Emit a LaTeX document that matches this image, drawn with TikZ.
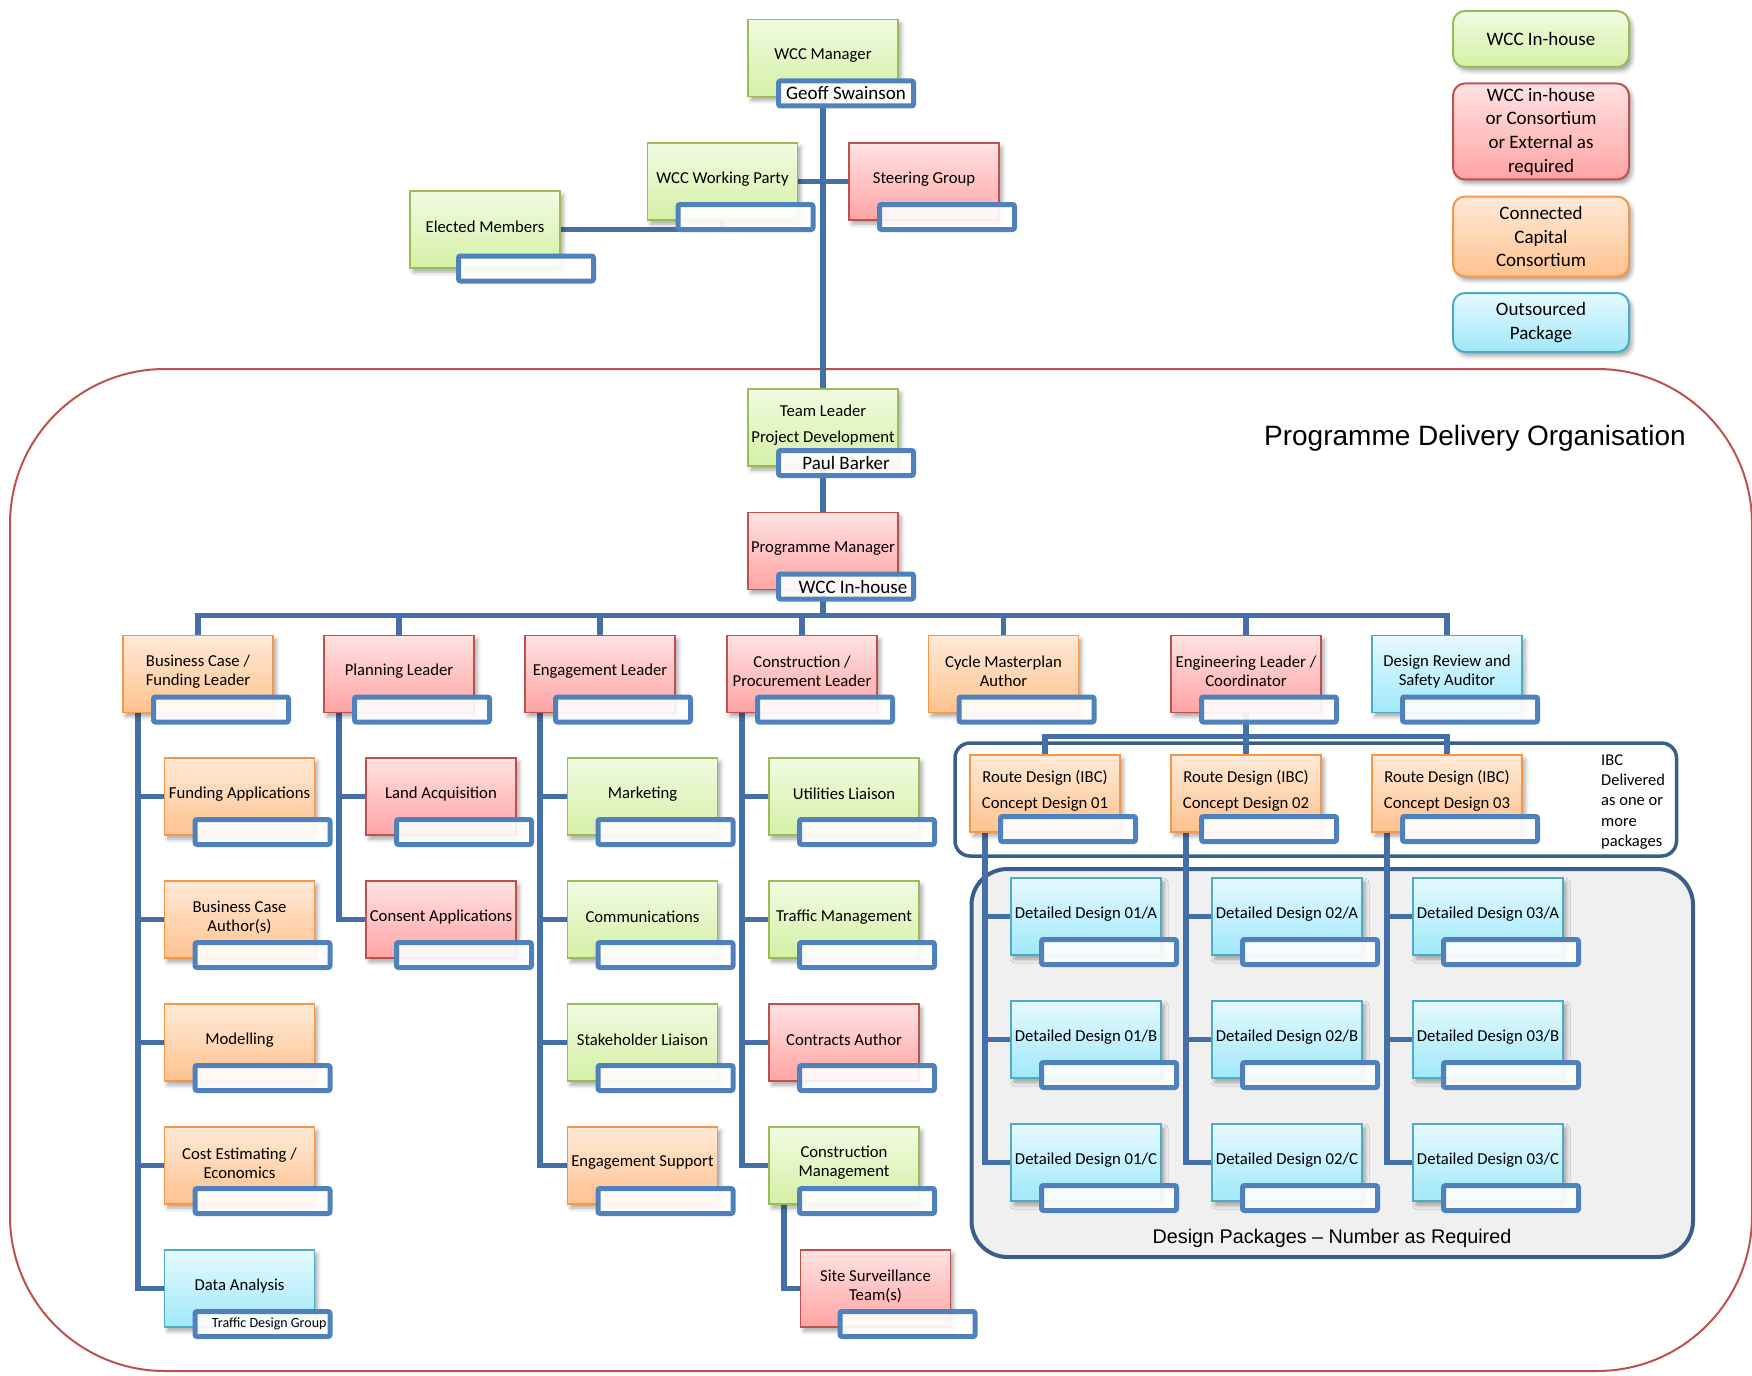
\documentclass[tikz,border=0pt]{standalone}
\usepackage{fontspec}
\setmainfont{Carlito}
\newfontfamily\arialfont{Liberation Sans}
\usetikzlibrary{calc,shadows.blur}

% box fills and outlines
\definecolor{gTop}{RGB}{241,251,226}
\definecolor{gBot}{RGB}{212,240,165}
\definecolor{gLine}{RGB}{155,187,89}
\definecolor{rTop}{RGB}{255,226,226}
\definecolor{rBot}{RGB}{255,164,164}
\definecolor{rLine}{RGB}{192,80,77}
\definecolor{oTop}{RGB}{255,234,216}
\definecolor{oBot}{RGB}{255,194,142}
\definecolor{oLine}{RGB}{247,150,70}
\definecolor{bTop}{RGB}{230,249,254}
\definecolor{bBot}{RGB}{160,232,250}
\definecolor{bLine}{RGB}{75,172,198}
% tags, connectors and frames
\definecolor{tagBlue}{RGB}{79,129,189}
\definecolor{connBlue}{RGB}{68,111,168}
\definecolor{frameBlue}{RGB}{58,94,140}
\definecolor{panelGray}{RGB}{240,240,240}
\definecolor{regionRed}{RGB}{192,80,77}

\newcommand{\orgBoxFont}{\fontsize{16.7}{19}\selectfont}
\newcommand{\orgTagFont}{\fontsize{19}{22}\selectfont}
\newcommand{\orgLegendFont}{\fontsize{19}{23.7}\selectfont}

\pgfdeclarelayer{regions}
\pgfdeclarelayer{links}
\pgfsetlayers{regions,links,main}

% a role box with its title set a little above the centre
\newcommand{\orgbox}[5]{%
  \node[orgnode,#2,anchor=north west] (#1) at (#3,#4) {};
  \node[boxtext] (#1-t) at ($(#1.center)+(0,-2.5)$) {#5};
}
% the name tag that overlaps the lower right of a role box
\newcommand{\orgtag}[3][23,35.5]{%
  \node[tagnode] (#2-n) at ($(#2.center)+(#1)$) {#3};
}

\begin{document}
\begin{tikzpicture}[x=1pt,y=-1pt,
  fillgreen/.style={top color=gTop,bottom color=gBot,draw=gLine},
  fillred/.style={top color=rTop,bottom color=rBot,draw=rLine},
  fillorange/.style={top color=oTop,bottom color=oBot,draw=oLine},
  fillblue/.style={top color=bTop,bottom color=bBot,draw=bLine},
  orgnode/.style={minimum width=150pt,minimum height=77pt,inner sep=0pt,outer sep=0pt,
    line width=1.6pt,
    blur shadow={shadow xshift=3pt,shadow yshift=-4pt,shadow blur radius=4pt,shadow opacity=35}},
  boxtext/.style={font=\orgBoxFont,align=center,inner sep=0pt,text=black},
  tagnode/.style={draw=tagBlue,line width=5pt,fill=white,fill opacity=0.9,text opacity=1,
    rounded corners=2pt,minimum width=135pt,minimum height=25pt,inner sep=0pt,outer sep=0pt,
    font=\orgTagFont,text=black},
  legendbox/.style={minimum width=176pt,inner sep=0pt,outer sep=0pt,line width=2pt,
    rounded corners=12pt,align=center,font=\orgLegendFont,anchor=north west,
    blur shadow={shadow xshift=3pt,shadow yshift=-4pt,shadow blur radius=4pt,shadow opacity=35}},
  conn/.style={draw=connBlue,line width=5.5pt}
]
\useasboundingbox (0,0) rectangle (1752,1375);

% ---------- legend ----------
\node[legendbox,fillgreen,minimum height=56pt] (lg1) at (1453,11) {WCC In-house};
\node[legendbox,fillred,minimum height=96pt] (lg2) at (1453,83.5) {WCC in-house\\or Consortium\\or External as\\required};
\node[legendbox,fillorange,minimum height=80pt] (lg3) at (1453,196.5) {Connected\\Capital\\Consortium};
\node[legendbox,fillblue,minimum height=59pt] (lg4) at (1453,293) {Outsourced\\Package};

% ---------- governance ----------
\orgbox{mgr}{fillgreen}{748}{19.5}{WCC Manager}
\orgbox{wp}{fillgreen}{647.5}{143}{WCC Working Party}
\orgbox{sg}{fillred}{849}{143}{Steering Group}
\orgbox{em}{fillgreen}{410}{191}{Elected Members}

% ---------- programme delivery ----------
\orgbox{tl}{fillgreen}{748}{389}{Team Leader\\[7pt]Project Development}
\orgbox{pm}{fillred}{748}{512.5}{Programme Manager}

\orgbox{bcf}{fillorange}{123}{635.5}{Business Case /\\Funding Leader}
\orgbox{pln}{fillred}{324}{635.5}{Planning Leader}
\orgbox{engage}{fillred}{525}{635.5}{Engagement Leader}
\orgbox{cpl}{fillred}{727}{635.5}{Construction /\\Procurement Leader}
\orgbox{cma}{fillorange}{928.5}{635.5}{Cycle Masterplan\\Author}
\orgbox{engin}{fillred}{1171}{635.5}{Engineering Leader /\\Coordinator}
\orgbox{drs}{fillblue}{1372}{635.5}{Design Review and\\Safety Auditor}

% business case team
\orgbox{bc1}{fillorange}{164.5}{758}{Funding Applications}
\orgbox{bc2}{fillorange}{164.5}{881}{Business Case\\Author(s)}
\orgbox{bc3}{fillorange}{164.5}{1004}{Modelling}
\orgbox{bc4}{fillorange}{164.5}{1127}{Cost Estimating /\\Economics}
\orgbox{bc5}{fillblue}{164.5}{1250}{Data Analysis}

% planning team
\orgbox{pl1}{fillred}{366}{758}{Land Acquisition}
\orgbox{pl2}{fillred}{366}{881}{Consent Applications}

% engagement team
\orgbox{eg1}{fillgreen}{567.5}{758}{Marketing}
\orgbox{eg2}{fillgreen}{567.5}{881}{Communications}
\orgbox{eg3}{fillgreen}{567.5}{1004}{Stakeholder Liaison}
\orgbox{eg4}{fillorange}{567.5}{1127}{Engagement Support}

% construction team
\orgbox{cp1}{fillgreen}{769}{758}{Utilities Liaison}
\orgbox{cp2}{fillgreen}{769}{881}{Traffic Management}
\orgbox{cp3}{fillred}{769}{1004}{Contracts Author}
\orgbox{cp4}{fillgreen}{769}{1127}{Construction\\Management}
\orgbox{ss}{fillred}{800.5}{1250}{Site Surveillance\\Team(s)}

% route design packages
\orgbox{rd1}{fillorange}{970}{755}{Route Design (IBC)\\[7pt]Concept Design 01}
\orgbox{rd2}{fillorange}{1171}{755}{Route Design (IBC)\\[7pt]Concept Design 02}
\orgbox{rd3}{fillorange}{1372}{755}{Route Design (IBC)\\[7pt]Concept Design 03}

% detailed design packages
\orgbox{d1a}{fillblue}{1011}{878}{Detailed Design 01/A}
\orgbox{d1b}{fillblue}{1011}{1001}{Detailed Design 01/B}
\orgbox{d1c}{fillblue}{1011}{1124}{Detailed Design 01/C}
\orgbox{d2a}{fillblue}{1212}{878}{Detailed Design 02/A}
\orgbox{d2b}{fillblue}{1212}{1001}{Detailed Design 02/B}
\orgbox{d2c}{fillblue}{1212}{1124}{Detailed Design 02/C}
\orgbox{d3a}{fillblue}{1413}{878}{Detailed Design 03/A}
\orgbox{d3b}{fillblue}{1413}{1001}{Detailed Design 03/B}
\orgbox{d3c}{fillblue}{1413}{1124}{Detailed Design 03/C}

% ---------- name tags ----------
\orgtag{mgr}{Geoff Swainson}
\orgtag{tl}{Paul Barker}
\orgtag{pm}{\hspace*{14pt}WCC In-house}
\orgtag{bc5}{\fontsize{14}{16}\selectfont\makebox[128pt][r]{Traffic Design Group}}
\orgtag[41,39]{em}{}
\orgtag[32,35.5]{ss}{}
\foreach \k in {wp,sg,bcf,pln,engage,cpl,cma,engin,drs,
    bc1,bc2,bc3,bc4,pl1,pl2,eg1,eg2,eg3,eg4,cp1,cp2,cp3,cp4,
    rd1,rd2,rd3,d1a,d1b,d1c,d2a,d2b,d2c,d3a,d3b,d3c}
  {\orgtag{\k}{}}

% ---------- labels ----------
\node[font=\arialfont\fontsize{28}{32}\selectfont,anchor=base,inner sep=0pt] (pdo) at (1475,445)
  {Programme Delivery Organisation};
\node[font=\fontsize{16.5}{20.4}\selectfont,align=left,anchor=west,inner sep=0pt] (ibc) at (1601,802)
  {IBC\\Delivered\\as one or\\more\\packages};
\node[font=\arialfont\fontsize{19.8}{24}\selectfont,anchor=base,inner sep=0pt] (dpl) at (1332,1243)
  {Design Packages – Number as Required};

% ---------- connectors ----------
\begin{pgfonlayer}{links}
  \draw[conn] (mgr.south) -- (tl.north);
  \draw[conn] (wp.east) -- (sg.west);
  \draw[conn] (wp.south) |- (em.east);
  \draw[conn] (tl.south) -- (pm.north);
  \coordinate (bus) at ($(pm.south)+(0,26)$);
  \foreach \k in {bcf,pln,engage,cpl,cma,engin,drs}
    {\draw[conn] (pm.south) |- (bus -| \k.north) -- (\k.north);}
  \coordinate (rdbus) at ($(engin.south)+(0,24)$);
  \foreach \k in {rd1,rd2,rd3}
    {\draw[conn] (engin.south) |- (rdbus -| \k.north) -- (\k.north);}
  \foreach \p/\c in {bcf/bc1,bcf/bc2,bcf/bc3,bcf/bc4,bcf/bc5,
      pln/pl1,pln/pl2,
      engage/eg1,engage/eg2,engage/eg3,engage/eg4,
      cpl/cp1,cpl/cp2,cpl/cp3,cpl/cp4,cp4/ss,
      rd1/d1a,rd1/d1b,rd1/d1c,rd2/d2a,rd2/d2b,rd2/d2c,rd3/d3a,rd3/d3b,rd3/d3c}
    {\draw[conn] ($(\p.south west)+(15,0)$) |- (\c.west);}
\end{pgfonlayer}

% ---------- frames ----------
\begin{pgfonlayer}{regions}
  \draw[regionRed,line width=2pt,rounded corners=155pt] (10,369) rectangle (1752,1371);
  \draw[frameBlue,line width=3.5pt,rounded corners=15pt] (955,743) rectangle (1676.5,856);
  \draw[frameBlue,line width=4pt,fill=panelGray,rounded corners=36pt] (971.5,869) rectangle (1693,1257);
\end{pgfonlayer}
\end{tikzpicture}
\end{document}
